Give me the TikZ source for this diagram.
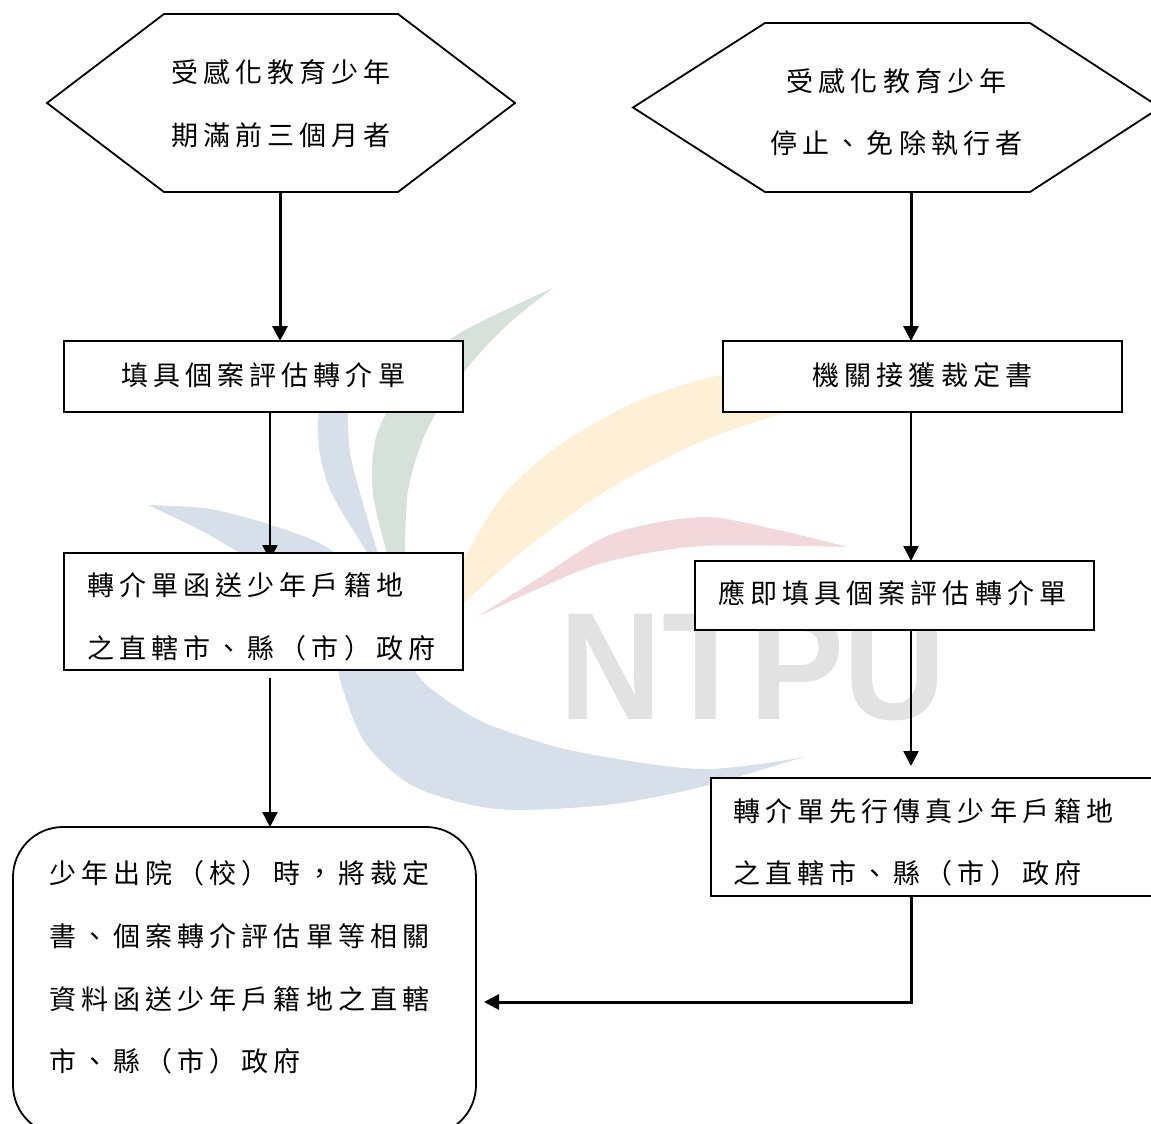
\documentclass[tikz,border=0pt]{standalone}
\usepackage{fontspec}
\usetikzlibrary{arrows.meta,backgrounds}
\newfontfamily\cjkfont[LetterSpace=19]{Noto Sans CJK TC}
\newfontfamily\wmfont{Liberation Sans}
\newcommand{\flowtext}[4]{\raisebox{#1pt}[0pt][0pt]{\parbox{#2pt}{#3\cjkfont\fontsize{27}{62.6}\selectfont #4}}}
\definecolor{wmgreen}{HTML}{D6E1DA}
\definecolor{wmblue}{HTML}{D7E0EA}
\definecolor{wmyellow}{HTML}{FEF0D6}
\definecolor{wmpink}{HTML}{F2D8DA}
\definecolor{wmgray}{HTML}{E2E2E2}
\tikzset{
  flowbox/.style={draw=black,fill=white,line width=1.8pt,inner sep=0pt,outer sep=0pt,rectangle},
  roundbox/.style={flowbox,rounded corners=50pt},
  hexbox/.style={inner sep=0pt,outer sep=0pt,rectangle},
  hexline/.style={draw=black,line width=1.8pt,line join=miter},
  conn/.style={draw=black,line width=2.4pt,-{Triangle[width=15pt,length=15pt]}},
  heavyconn/.style={conn,line width=3pt}
}
\begin{document}
\begin{tikzpicture}[x=1pt,y=-1pt]
\useasboundingbox (0,0) rectangle (1151,1124);
\clip (0,0) rectangle (1151,1124);
% watermark
\begin{pgfonlayer}{background}
\fill[wmblue] plot[smooth] coordinates {(319,395) (319,448) (332,494) (372,560)} -- plot[smooth] coordinates {(380,560) (351,458) (348,395)} -- cycle;
\fill[wmgreen] plot[smooth] coordinates {(553,288) (455,336) (404,386) (376,437) (373,494) (389,560)} -- plot[smooth] coordinates {(405,560) (408,491) (427,430) (464,372) (506,326) (553,288)} -- cycle;
\fill[wmblue] plot[smooth] coordinates {(148,505) (210,509) (274,526) (332,551) (375,610) (415,671) (434,691) (485,723) (574,751) (701,769) (804,757)} -- plot[smooth] coordinates {(804,757) (701,787) (606,805) (497,809) (415,787) (366,744) (343,690) (325,625) (285,580) (240,553) (200,530) (148,505)} -- cycle;
\fill[wmyellow] plot[smooth] coordinates {(800,372) (721,375) (638,401) (561,444) (504,494) (462,562) (445,600)} -- plot[smooth] coordinates {(445,630) (462,605) (523,551) (606,491) (702,441) (800,408)} -- cycle;
\fill[wmpink] plot[smooth] coordinates {(477,617) (542,576) (612,534) (702,517) (778,530) (848,547)} -- plot[smooth] coordinates {(848,547) (702,546) (606,562) (542,587) (477,617)} -- cycle;
\node[inner sep=0pt,xscale=0.93,text=wmgray] (wm) at (753,668) {\wmfont\bfseries\fontsize{153}{153}\selectfont NTPU};
\end{pgfonlayer}
% shapes
\node[hexbox,minimum width=468pt,minimum height=178pt] (hexa) at (281,103) {\flowtext{-3}{240}{\centering}{受感化教育少年\\期滿前三個月者}};
\draw[hexline] (hexa.west) -- ([xshift=117pt]hexa.north west) -- ([xshift=-117pt]hexa.north east) -- (hexa.east) -- ([xshift=-117pt]hexa.south east) -- ([xshift=117pt]hexa.south west) -- cycle;
\node[hexbox,minimum width=527pt,minimum height=169pt] (hexb) at (896.5,107.5) {\flowtext{-7}{270}{\centering}{受感化教育少年\\停止、免除執行者}};
\draw[hexline] (hexb.west) -- ([xshift=132pt]hexb.north west) -- ([xshift=-130pt]hexb.north east) -- (hexb.east) -- ([xshift=-130pt]hexb.south east) -- ([xshift=132pt]hexb.south west) -- cycle;
\node[flowbox,minimum width=399pt,minimum height=71pt] (boxa) at (263.5,376.5) {\flowtext{-1}{285}{\raggedright}{填具個案評估轉介單}};
\node[flowbox,minimum width=399pt,minimum height=117pt] (boxb) at (263.5,611.5) {\flowtext{-8}{353}{\raggedright}{轉介單函送少年戶籍地\\之直轄市、縣（市）政府}};
\node[flowbox,minimum width=399pt,minimum height=71pt] (boxc) at (922.5,376.5) {\flowtext{-1}{220}{\raggedright}{機關接獲裁定書}};
\node[flowbox,minimum width=399pt,minimum height=69pt] (boxd) at (894.5,595.5) {\flowtext{0}{353}{\raggedright}{應即填具個案評估轉介單}};
\node[flowbox,minimum width=470pt,minimum height=118pt] (boxe) at (946,837) {\flowtext{-8}{426}{\raggedright}{轉介單先行傳真少年戶籍地\\之直轄市、縣（市）政府}};
\node[roundbox,minimum width=463pt,minimum height=308pt] (boxf) at (244.5,981) {\flowtext{11}{391}{\raggedright}{少年出院（校）時，將裁定\\書、個案轉介評估單等相關\\資料函送少年戶籍地之直轄\\市、縣（市）政府}};
% connectors
\draw[heavyconn] ([xshift=-1pt]hexa.south) -- ([xshift=16.5pt]boxa.north);
\draw[heavyconn] ([xshift=14.5pt]hexb.south) -- ([xshift=-11.5pt]boxc.north);
\begin{pgfonlayer}{background}
\draw[conn] ([xshift=6.5pt]boxa.south) -- ([xshift=6.5pt,yshift=-7pt]boxb.north);
\end{pgfonlayer}
\draw[conn] ([xshift=-11.5pt]boxc.south) -- ([xshift=16.5pt]boxd.north);
\draw[conn] ([xshift=6.5pt,yshift=-8pt]boxb.south) -- ([xshift=25.5pt]boxf.north);
\draw[conn] ([xshift=16.5pt]boxd.south) -- ([xshift=-35pt,yshift=12pt]boxe.north);
\draw[heavyconn] ([xshift=-35pt]boxe.south) |- ([xshift=8pt,yshift=-21pt]boxf.east);
\end{tikzpicture}
\end{document}
